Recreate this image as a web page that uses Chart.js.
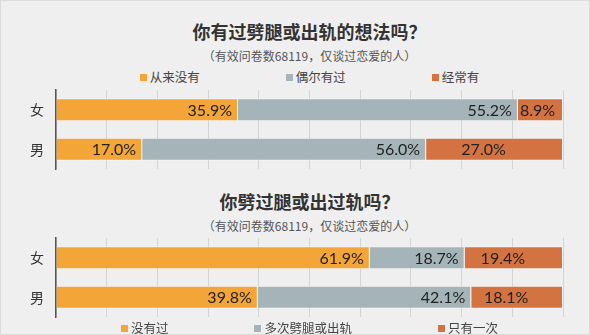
<!DOCTYPE html>
<html>
<head>
<meta charset="utf-8">
<script src="https://cdn.jsdelivr.net/npm/chart.js@4"></script>
<style>
  body { margin: 0; background: #efefef; }
  #wrap { position: relative; width: 590px; height: 335px; overflow: hidden;
          font-family: "Noto Sans CJK SC", sans-serif; box-sizing: border-box; border: 1px solid #dcdcdc; }
  .title { position: absolute; left: 55px; width: 507px; text-align: center;
           font-size: 18px; font-weight: 700; line-height: 20px; color: #333; }
  .sub { position: absolute; left: 55px; width: 507px; text-align: center;
         font-size: 12px; line-height: 16px; color: #555; }
  .legend { position: absolute; left: 55px; width: 507px; display: flex; justify-content: center;
            gap: 86px; font-size: 12.5px; line-height: 16px; color: #444; }
  .legend span.box { display: inline-block; width: 7px; height: 7px; margin-right: 3px; vertical-align: 1px; }
  canvas { position: absolute; left: 0; }
</style>
</head>
<body>
<div id="wrap">
  <div class="title" id="title1" style="top:20px"></div>
  <div class="sub" id="sub1" style="top:47px"></div>
  <div class="legend" id="legend1" style="top:68px"></div>
  <canvas id="chart1" width="590" height="92" style="top:80px"></canvas>

  <div class="title" id="title2" style="top:190px"></div>
  <div class="sub" id="sub2" style="top:217px"></div>
  <canvas id="chart2" width="590" height="90" style="top:230px"></canvas>
  <div class="legend" id="legend2" style="top:319px"></div>
</div>
<script>
// data
const genders = ['女', '男'];

const title1 = '你有过劈腿或出轨的想法吗？';
const thoughtSeries = ['从来没有', '偶尔有过', '经常有'];
const thoughtNever = [35.9, 17.0];
const thoughtSometimes = [55.2, 56.0];
const thoughtOften = [8.9, 27.0];

const title2 = '你劈过腿或出过轨吗？';
const cheatSeries = ['没有过', '多次劈腿或出轨', '只有一次'];
const cheatNever = [61.9, 39.8];
const cheatMany = [18.7, 42.1];
const cheatOnce = [19.4, 18.1];

const subtitle = '（有效问卷数68119，仅谈过恋爱的人）';
const colors = ['#f3a537', '#a4b4b9', '#d47342'];

// value labels: first two series at the inside end, last one near the middle
const barLabels = {
  id: 'barLabels',
  afterDatasetsDraw(chart) {
    const ctx = chart.ctx;
    ctx.save();
    ctx.font = '16px Lato';
    ctx.fillStyle = '#222';
    ctx.textBaseline = 'middle';
    chart.data.datasets.forEach((ds, i) => {
      chart.getDatasetMeta(i).data.forEach((bar, j) => {
        const txt = ds.data[j].toFixed(1) + '%';
        const w = ctx.measureText(txt).width;
        const left = bar.base, right = bar.x;
        let x;
        if (i < 2) {
          x = right - 6 - w;
        } else {
          x = (left + right) / 2 - 11 - w / 2;
          if (x < left + 2) x = left + 2;
        }
        ctx.fillText(txt, x, bar.y + 1);
      });
    });
    ctx.restore();
  }
};

function makeChart(id, names, values, padTop) {
  return new Chart(document.getElementById(id), {
    type: 'bar',
    data: {
      labels: genders,
      datasets: values.map((v, i) => ({
        label: names[i],
        data: v,
        backgroundColor: colors[i],
        borderColor: 'rgba(255,255,255,0.45)',
        borderWidth: 1,
        categoryPercentage: 0.58,
        barPercentage: 1
      }))
    },
    options: {
      indexAxis: 'y',
      responsive: false,
      animation: false,
      layout: { padding: { top: padTop, bottom: 4, left: 0, right: 28 } },
      plugins: { legend: { display: false }, tooltip: { enabled: false } },
      scales: {
        x: {
          stacked: true, min: 0, max: 100,
          ticks: { display: false, stepSize: 10 },
          grid: { color: '#d3d3d3', drawTicks: false },
          border: { display: false },
          afterFit: (s) => { s.height = 0; }
        },
        y: {
          stacked: true,
          grid: { display: false, drawTicks: false },
          border: { color: '#555', width: 1.5 },
          ticks: { color: '#333', padding: 12, font: { family: 'Noto Sans CJK SC', size: 14 } },
          afterFit: (s) => { s.width = 55; s.paddingTop = 0; s.paddingBottom = 0; }
        }
      }
    },
    plugins: [barLabels]
  });
}

function fillLegend(id, names) {
  const el = document.getElementById(id);
  names.forEach((n, i) => {
    const item = document.createElement('div');
    item.innerHTML = '<span class="box" style="background:' + colors[i] + '"></span>' + n;
    el.appendChild(item);
  });
}

document.getElementById('title1').textContent = title1;
document.getElementById('title2').textContent = title2;
document.getElementById('sub1').textContent = subtitle;
document.getElementById('sub2').textContent = subtitle;
fillLegend('legend1', thoughtSeries);
fillLegend('legend2', cheatSeries);

makeChart('chart1', thoughtSeries, [thoughtNever, thoughtSometimes, thoughtOften], 9);
makeChart('chart2', cheatSeries, [cheatNever, cheatMany, cheatOnce], 7);
</script>
</body>
</html>
